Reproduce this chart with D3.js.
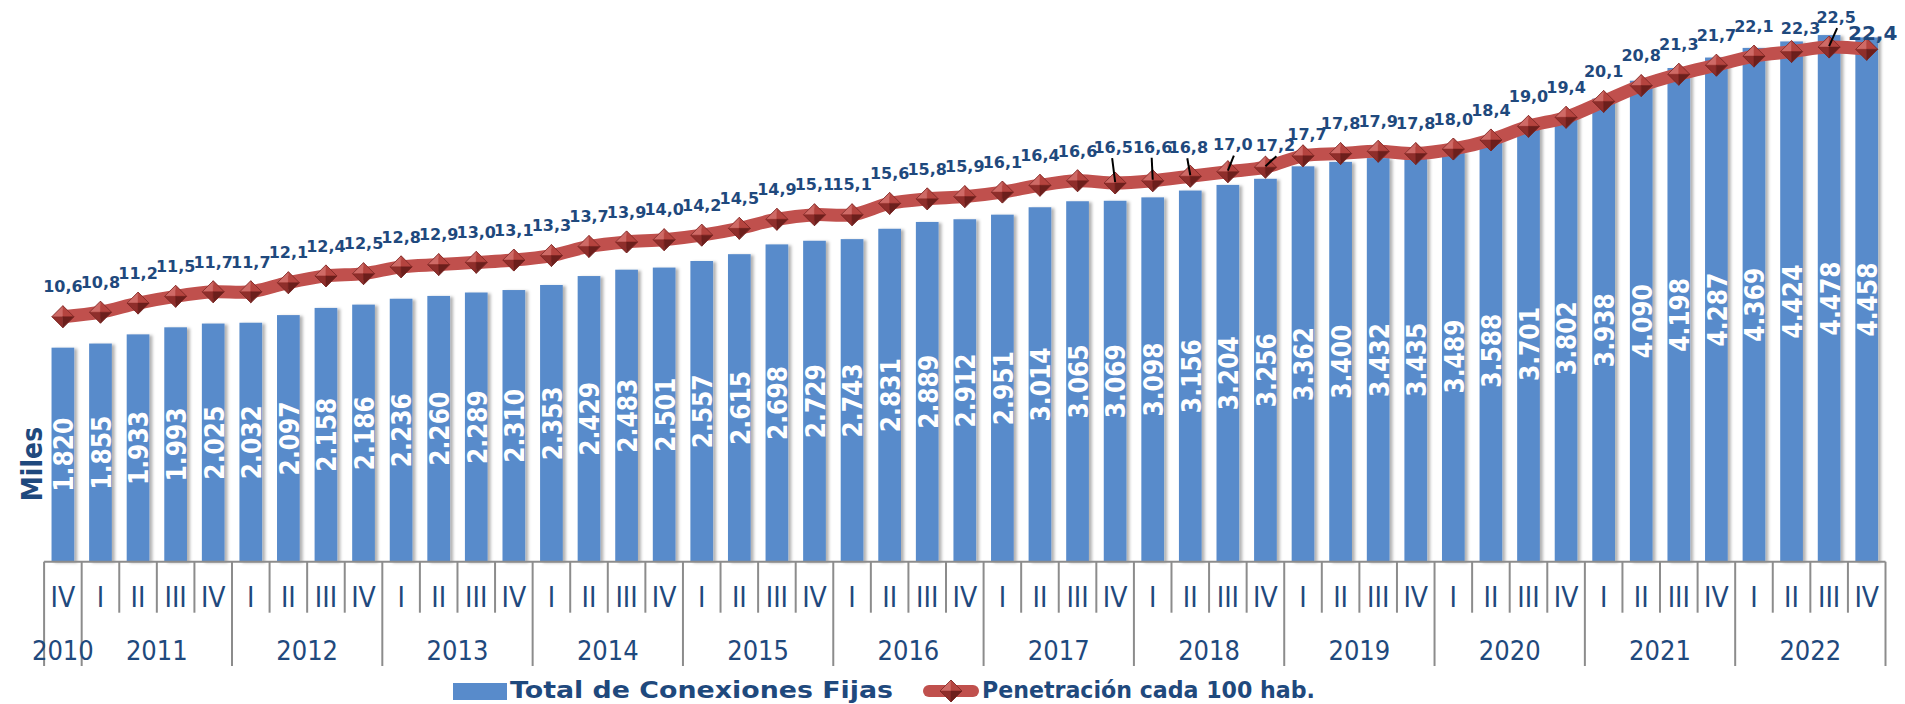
<!DOCTYPE html>
<html>
<head>
<meta charset="utf-8">
<script src="https://cdn.jsdelivr.net/npm/d3@7"></script>
<style>
  html, body { margin: 0; padding: 0; background: #fff; }
  svg { display: block; }
  .cond { font-family: "DejaVu Sans Condensed", "DejaVu Sans", sans-serif; font-stretch: condensed; }
  .wide { font-family: "DejaVu Sans", Verdana, sans-serif; }
</style>
</head>
<body>
<svg id="chart" width="1905" height="704"></svg>
<script>
// ---------------- DATA ----------------
const quarters = ["IV",
  "I","II","III","IV", "I","II","III","IV", "I","II","III","IV", "I","II","III","IV",
  "I","II","III","IV", "I","II","III","IV", "I","II","III","IV", "I","II","III","IV",
  "I","II","III","IV", "I","II","III","IV", "I","II","III","IV", "I","II","III","IV"];
const years = ["2010","2011","2012","2013","2014","2015","2016","2017","2018","2019","2020","2021","2022"];
const quartersPerYear = [1,4,4,4,4,4,4,4,4,4,4,4,4];
const conexiones = [1820,1855,1933,1993,2025,2032,2097,2158,2186,2236,2260,2289,2310,2353,2429,2483,2501,
  2557,2615,2698,2729,2743,2831,2889,2912,2951,3014,3065,3069,3098,3156,3204,3256,3362,3400,3432,3435,
  3489,3588,3701,3802,3938,4090,4198,4287,4369,4424,4478,4458];
const penetracion = [10.6,10.8,11.2,11.5,11.7,11.7,12.1,12.4,12.5,12.8,12.9,13.0,13.1,13.3,13.7,13.9,14.0,
  14.2,14.5,14.9,15.1,15.1,15.6,15.8,15.9,16.1,16.4,16.6,16.5,16.6,16.8,17.0,17.2,17.7,17.8,17.9,17.8,
  18.0,18.4,19.0,19.4,20.1,20.8,21.3,21.7,22.1,22.3,22.5,22.4];
const seriesNames = ["Total de Conexiones Fijas", "Penetración cada 100 hab."];
const yTitle = "Miles";

// ---------------- LAYOUT ----------------
const W = 1905, H = 704;
const left = 44.1, right = 1885.5, base = 561.7;
const navy = "#1F497D", barColor = "#588BCB", lineColor = "#C0504D", axisColor = "#8C8C8C";

// label placement tweaks (dx, dy of label centre relative to marker; leader line flag)
const labelTweak = {
  28: {dx:-2, dy:-36, leader:true},
  29: {dx:0, dy:-34, leader:true},
  30: {dx:-2, dy:-29, leader:true},
  31: {dx:5, dy:-27, leader:true},
  32: {dx:10, dy:-22, leader:true},
  33: {dx:4, dy:-22},
  46: {dx:9, dy:-23},
  47: {dx:7, dy:-30, leader:true},
  48: {dx:6, dy:-17, big:true}
};

const svg = d3.select("#chart");
const defs = svg.append("defs");
const f = defs.append("filter").attr("id","shadow").attr("x","-20%").attr("y","-5%").attr("width","160%").attr("height","110%");
f.append("feDropShadow").attr("dx",3).attr("dy",1).attr("stdDeviation",1.6)
  .attr("flood-color","#000").attr("flood-opacity",0.3);

const idx = d3.range(conexiones.length);
const x = d3.scaleBand().domain(idx).range([left, right]).paddingInner(0.396).paddingOuter(0.198);
const step = x.step();
const cx = i => x(i) + x.bandwidth() / 2;
const boundary = i => left + i * step;

const y = d3.scaleLinear().domain([0, 5000]).range([base, base - 588]);
const y2 = d3.scaleLinear().domain([0, 25]).range([556.9, 556.9 - 22.66 * 25]);

// ---------------- BARS ----------------
svg.append("g").attr("filter","url(#shadow)")
  .selectAll("rect").data(conexiones).join("rect")
  .attr("x", (d,i) => x(i)).attr("width", x.bandwidth())
  .attr("y", d => y(d)).attr("height", d => base - y(d))
  .attr("fill", barColor);

const fmt = d => d3.format(",")(d).replace(",", ".");
svg.append("g").selectAll("text").data(conexiones).join("text")
  .attr("class","cond")
  .attr("transform", (d,i) => `translate(${cx(i)+1},${(y(d)+base)/2}) rotate(-90)`)
  .attr("text-anchor","middle").attr("dy","0.36em")
  .attr("fill","#fff").attr("font-weight","bold").attr("font-size",26)
  .text(fmt);

// ---------------- AXIS ----------------
const ax = svg.append("g");
ax.append("line").attr("x1", left).attr("x2", right).attr("y1", base).attr("y2", base)
  .attr("stroke", axisColor).attr("stroke-width", 2);
const yearStarts = [0];
quartersPerYear.forEach((n,k) => yearStarts.push(yearStarts[k] + n));
ax.selectAll("line.tick").data(d3.range(conexiones.length + 1)).join("line")
  .attr("class","tick")
  .attr("x1", i => boundary(i)).attr("x2", i => boundary(i))
  .attr("y1", base).attr("y2", i => yearStarts.includes(i) ? 666 : 612.7)
  .attr("stroke", axisColor).attr("stroke-width", 2);
ax.selectAll("text.q").data(quarters).join("text")
  .attr("class","q cond")
  .attr("x", (d,i) => boundary(i) + step/2).attr("y", 596.7).attr("dy","0.36em")
  .attr("text-anchor","middle").attr("font-size",28).attr("fill",navy).text(d => d);
ax.selectAll("text.yr").data(years).join("text")
  .attr("class","yr cond")
  .attr("x", (d,k) => (boundary(yearStarts[k]) + boundary(yearStarts[k+1]))/2).attr("y", 650).attr("dy","0.36em")
  .attr("text-anchor","middle").attr("font-size",27).attr("fill",navy).text(d => d);

svg.append("text").attr("class","cond")
  .attr("transform","translate(31.5,464) rotate(-90)")
  .attr("text-anchor","middle").attr("dy","0.36em")
  .attr("font-size",28).attr("font-weight","bold").attr("fill",navy).text(yTitle);

// ---------------- LINE ----------------
const line = d3.line().x((d,i) => cx(i)).y(d => y2(d)).curve(d3.curveCardinal.tension(0));
svg.append("path").datum(penetracion).attr("d", line)
  .attr("fill","none").attr("stroke", lineColor).attr("stroke-width", 13).attr("stroke-linejoin","round");

function diamond(g, px, py, r) {
  const t = [px, py - r], b = [px, py + r], l = [px - r, py], rr = [px + r, py], c = [px, py];
  const facets = [[l,t,"#CF6A66"],[t,rr,"#B5443F"],[l,b,"#8F2E2B"],[b,rr,"#6C1F1C"]];
  facets.forEach(([p1,p2,col]) => {
    g.append("path").attr("d", `M${p1}L${p2}L${c}Z`).attr("fill", col).attr("stroke", col).attr("stroke-width",0.5);
  });
  g.append("path").attr("d", `M${l}L${t}L${rr}L${b}Z`).attr("fill","none").attr("stroke","#7A2623").attr("stroke-width",0.8);
}

const markers = svg.append("g");
penetracion.forEach((v,i) => diamond(markers, cx(i), y2(v), 11));

const leaders = svg.append("g");
const lbl = svg.append("g");
penetracion.forEach((v,i) => {
  const t = labelTweak[i] || {dx:0, dy:-30};
  const lx = cx(i) + t.dx, ly = y2(v) + t.dy;
  if (t.leader) {
    leaders.append("line").attr("x1", lx + (t.dx > 3 ? 1 : -1)).attr("y1", ly + 11)
      .attr("x2", cx(i)).attr("y2", y2(v) - 1)
      .attr("stroke","#000").attr("stroke-width",2);
  }
  lbl.append("text").attr("class","wide")
    .attr("x", lx).attr("y", ly).attr("dy","0.36em")
    .attr("text-anchor","middle").attr("font-weight","bold")
    .attr("font-size", t.big ? 20 : 16).attr("fill", navy)
    .text(d3.format(".1f")(v).replace(".", ","));
});

// ---------------- LEGEND ----------------
const lg = svg.append("g");
lg.append("rect").attr("x",453).attr("y",683).attr("width",54).attr("height",17).attr("fill",barColor);
lg.append("text").attr("class","wide").attr("x",510).attr("y",698)
  .attr("font-size",23).attr("font-weight","bold").attr("fill",navy)
  .attr("textLength",383).attr("lengthAdjust","spacingAndGlyphs").text(seriesNames[0]);
lg.append("line").attr("x1",929).attr("x2",973).attr("y1",691).attr("y2",691)
  .attr("stroke",lineColor).attr("stroke-width",12).attr("stroke-linecap","round");
diamond(lg, 951, 691, 11);
lg.append("text").attr("class","wide").attr("x",982).attr("y",698)
  .attr("font-size",23).attr("font-weight","bold").attr("fill",navy)
  .attr("textLength",333).attr("lengthAdjust","spacingAndGlyphs").text(seriesNames[1]);
</script>
</body>
</html>
